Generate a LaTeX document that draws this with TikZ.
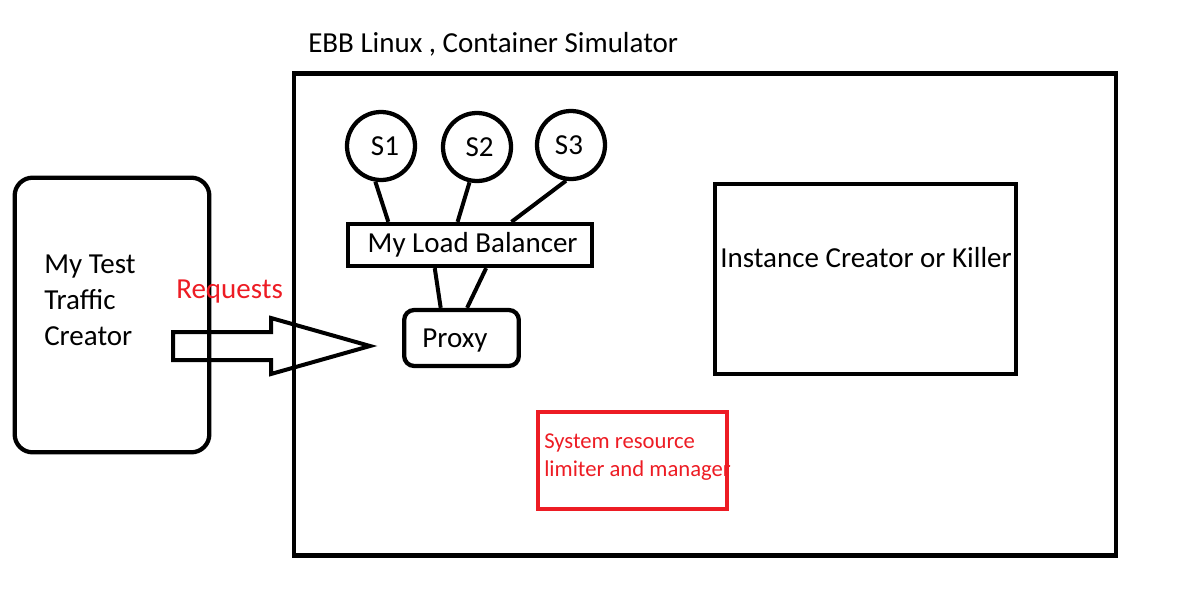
\documentclass[tikz,border=0pt]{standalone}
\usepackage{fontspec}
\setmainfont{Carlito}
\usetikzlibrary{calc}
\definecolor{pred}{RGB}{237,28,36}
\begin{document}
\begin{tikzpicture}[x=0.75pt,y=-0.75pt,
  every node/.style={inner sep=0pt},
  big/.style={font=\fontsize{21.75}{27}\selectfont},
  small/.style={font=\fontsize{17}{21}\selectfont},
  box/.style={draw, line width=3.2pt, rectangle},
  srv/.style={draw, line width=3.2pt, circle, minimum size=51pt, big},
  link/.style={line width=3pt},
]
\useasboundingbox (0,0) rectangle (1178,614);
% outer simulator box
\node[box, minimum width=616pt, minimum height=361.5pt] (sim) at (705,314.5) {};
\node[big, anchor=west] (title) at (308,44) {EBB Linux , Container Simulator};
% traffic creator
\node[box, rounded corners=13.5pt, minimum width=146pt, minimum height=206pt] (traffic) at (112,315) {};
\node[big, anchor=west, align=left] (traffictxt) at (44,300) {My Test\\Traffic\\Creator};
\node[big, anchor=west, text=pred] (req) at (176,292) {Requests};
% block arrow
\draw[line width=3pt, line join=miter] (173,332) coordinate (a1) -- (271,332) -- (271,318) -- (370,346) coordinate (tip) -- (271,374) -- (271,360) -- (173,360) -- cycle;
% servers
\node[srv] (s1) at (381,146) {\raisebox{-4pt}{\hspace*{6pt}S1}};
\node[srv] (s2) at (477,147) {\hspace*{4pt}S2};
\node[srv] (s3) at (571,145) {\raisebox{-3pt}{\hspace*{-3pt}S3}};
% load balancer
\node[box, minimum width=183pt, minimum height=31.5pt, big] (lb) at (470,245) {\hspace*{4pt}\raisebox{2pt}{My Load Balancer}};
% proxy
\node[box, rounded corners=7.5pt, minimum width=86pt, minimum height=42pt] (proxy) at (461.5,338) {};
\node[big] (proxytxt) at (455,341) {Proxy};
% instance creator
\node[box, minimum width=226pt, minimum height=142.5pt] (inst) at (865.5,279) {};
\node[big] (insttxt) at (866,258) {Instance Creator or Killer};
% resource limiter
\node[box, draw=pred, minimum width=141.5pt, minimum height=72.5pt] (res) at (632.5,460.5) {};
\node[small, text=pred, anchor=west, align=left] (restxt) at (544,457) {System resource\\limiter and manager};
% connectors
\draw[link] (s1.261) -- ($(lb.north west)!0.171!(lb.north east)$);
\draw[link] (s2.258) -- ($(lb.north west)!0.45!(lb.north east)$);
\draw[link] (s3.262) -- ($(lb.north west)!0.667!(lb.north east)$);
\draw[link] ($(lb.south west)!0.358!(lb.south east)$) -- ($(proxy.north west)!0.325!(proxy.north east)$);
\draw[link] ($(lb.south west)!0.565!(lb.south east)$) -- ($(proxy.north west)!0.547!(proxy.north east)$);
\end{tikzpicture}
\end{document}
